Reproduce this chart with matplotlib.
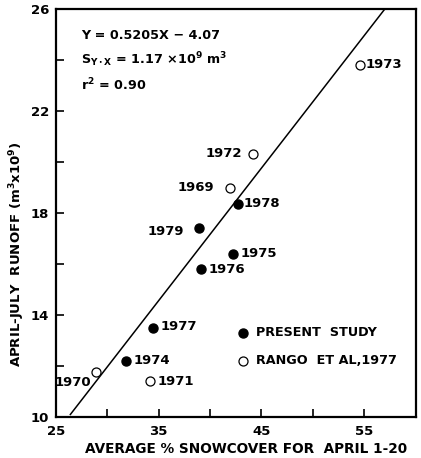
import numpy as np
import matplotlib
matplotlib.use("Agg")
import matplotlib.pyplot as plt

plt.rcParams['font.family'] = ['DejaVu Sans']
plt.rcParams['font.weight'] = 'bold'
plt.rcParams['mathtext.fontset'] = 'dejavusans'
plt.rcParams['mathtext.default'] = 'bf'

# present study (filled)
present_years = ['1974', '1977', '1976', '1979', '1975', '1978']
present_x = [31.8, 34.4, 39.1, 38.9, 42.2, 42.7]
present_y = [12.2, 13.5, 15.8, 17.4, 16.4, 18.35]

# Rango et al, 1977 (open)
rango_years = ['1970', '1971', '1969', '1972', '1973']
rango_x = [28.9, 34.2, 41.9, 44.2, 54.6]
rango_y = [11.75, 11.4, 19.0, 20.3, 23.8]

# regression line as drawn on the figure
line_x = [26.4, 57.0]
line_y = [10.1, 26.0]

x_ticks = [25, 30, 35, 40, 45, 50, 55, 60]
x_labels = ['25', '', '35', '', '45', '', '55', '']
y_ticks = [10, 12, 14, 16, 18, 20, 22, 24, 26]
y_labels = ['10', '', '14', '', '18', '', '22', '', '26']

# label offsets in pixels (dx, dy, ha)
offsets = {
    '1974': (8, 0, 'left'), '1977': (8, 1, 'left'), '1976': (8, 0, 'left'),
    '1979': (-15, -3, 'right'), '1975': (8, 0, 'left'), '1978': (6, 1, 'left'),
    '1970': (-5, -10, 'right'), '1971': (7, 0, 'left'), '1969': (-15, 0, 'right'),
    '1972': (-11, 1, 'right'), '1973': (6, 1, 'left'),
}

fig = plt.figure(figsize=(4.21, 4.58), dpi=100)
ax = fig.add_axes([0.133, 0.0895, 0.854, 0.8905])

ax.plot(line_x, line_y, color='black', lw=1.1)
ax.plot(present_x, present_y, 'o', ms=6.5, color='black', ls='none')
ax.plot(rango_x, rango_y, 'o', ms=6.5, mfc='white', mec='black', mew=0.9, ls='none')

for yr, x, y in zip(present_years + rango_years, present_x + rango_x, present_y + rango_y):
    dx, dy, ha = offsets[yr]
    ax.annotate(yr, (x, y), xytext=(dx, dy), textcoords='offset pixels',
                ha=ha, va='center', fontsize=9.5, fontweight='bold')

ax.set_xlim(25, 60)
ax.set_ylim(10, 26)
ax.set_xticks(x_ticks)
ax.set_xticklabels(x_labels)
ax.set_yticks(y_ticks)
ax.set_yticklabels(y_labels)
ax.tick_params(direction='in', length=6, width=1.2, labelsize=9.5, pad=6)
ax.tick_params(axis='y', pad=5)
for s in ax.spines.values():
    s.set_linewidth(1.6)

ax.set_xlabel('AVERAGE % SNOWCOVER FOR  APRIL 1-20', fontsize=9.8, fontweight='bold')
ax.xaxis.set_label_coords(0.53, -0.062)
ax.set_ylabel('APRIL-JULY  RUNOFF (m$^3$x10$^9$)', fontsize=9.5, fontweight='bold')
ax.yaxis.set_label_coords(-0.082, 0.40)

# equation block
ax.text(0.07, 0.935, 'Y = 0.5205X \u2212 4.07', transform=ax.transAxes, fontsize=9.2, va='center')
ax.text(0.07, 0.875, 'S$_{Y\\cdot X}$ = 1.17 \u00d710$^9$ m$^3$', transform=ax.transAxes, fontsize=9.2, va='center')
ax.text(0.07, 0.815, 'r$^2$ = 0.90', transform=ax.transAxes, fontsize=9.2, va='center')

# legend
ax.plot([0.52], [0.207], 'o', ms=6.5, color='black', transform=ax.transAxes)
ax.plot([0.52], [0.138], 'o', ms=6.5, mfc='white', mec='black', mew=0.9, transform=ax.transAxes)
ax.text(0.555, 0.207, 'PRESENT  STUDY', transform=ax.transAxes, fontsize=9.2, va='center')
ax.text(0.555, 0.138, 'RANGO  ET AL,1977', transform=ax.transAxes, fontsize=9.2, va='center')

fig.savefig('out.png', dpi=100)
